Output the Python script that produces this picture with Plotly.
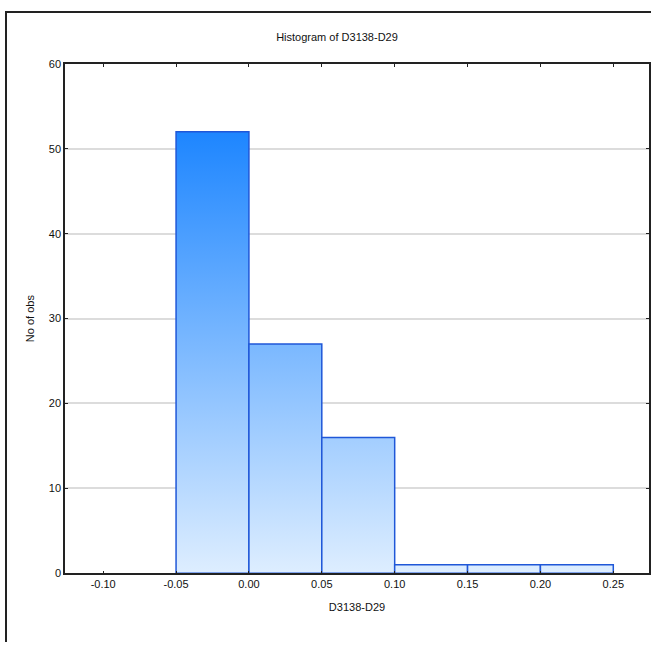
import plotly.graph_objects as go

# Histogram bins (left edges) and counts
bin_left = [-0.05, 0.00, 0.05, 0.10, 0.15, 0.20]
bin_width = 0.05
counts = [52, 27, 16, 1, 1, 1]

x_ticks = [-0.10, -0.05, 0.00, 0.05, 0.10, 0.15, 0.20, 0.25]
y_ticks = [0, 10, 20, 30, 40, 50, 60]

W, H = 651, 648
# plot area in pixels
PL, PR, PT, PB = 65, 649, 59, 578

LIGHT = "#e2f0ff"
DARK = "#1e86ff"
EDGE = "#1f57d8"

fig = go.Figure()

ymax = max(counts)
for x0, c in zip(bin_left, counts):
    x1 = x0 + bin_width
    fig.add_trace(go.Scatter(
        x=[x0, x0, x1, x1, x0],
        y=[0, c, c, 0, 0],
        mode="lines",
        fill="toself",
        fillgradient=dict(
            type="vertical",
            colorscale=[[0, LIGHT], [1, DARK]],
            start=0,
            stop=ymax,
        ),
        line=dict(color=EDGE, width=1.5),
        hoverinfo="skip",
        showlegend=False,
    ))

# empty trace carrying the outer frame axes (left and top border of the graph)
fig.add_trace(go.Scatter(x=[None], y=[None], xaxis="x2", yaxis="y2",
                         mode="lines", hoverinfo="skip", showlegend=False))

font_family = "Liberation Sans, Arial, sans-serif"
frame_axis = dict(showgrid=False, zeroline=False, showticklabels=False,
                  ticks="", showline=True, linecolor="#222222", linewidth=2,
                  range=[0, 1], fixedrange=True)

fig.update_layout(
    width=W, height=H,
    margin=dict(l=0, r=0, t=0, b=0),
    paper_bgcolor="white",
    plot_bgcolor="rgba(0,0,0,0)",
    font=dict(family=font_family, size=11, color="#111111"),
    title=dict(text="Histogram of D3138-D29", x=337 / W, xref="container",
               xanchor="center", y=1 - 37 / H, yref="container", yanchor="middle",
               font=dict(size=11, family=font_family, color="#111111")),
    xaxis=dict(
        domain=[PL / W, PR / W],
        range=[-0.1262, 0.2745],
        tickvals=x_ticks,
        ticktext=[f"{v:.2f}" for v in x_ticks],
        showgrid=False, zeroline=False,
        showline=True, linecolor="#222222", linewidth=1.5, mirror="ticks",
        ticks="inside", ticklen=3, tickcolor="#222222",
        tickfont=dict(size=11),
        title=dict(text="D3138-D29", font=dict(size=11), standoff=14),
    ),
    yaxis=dict(
        domain=[1 - PB / H, 1 - PT / H],
        range=[0, 60],
        tickvals=y_ticks,
        showgrid=True, gridcolor="#dcdcdc", gridwidth=1.5, zeroline=False,
        showline=True, linecolor="#222222", linewidth=1.5, mirror="ticks",
        ticks="inside", ticklen=3, tickcolor="#222222",
        tickfont=dict(size=11),
        title=dict(text="No of obs", font=dict(size=11), standoff=12),
    ),
    xaxis2=dict(frame_axis, domain=[7 / W, 1], anchor="y2", side="top"),
    yaxis2=dict(frame_axis, domain=[0, 1 - 7 / H], anchor="x2", side="left"),
)

fig.write_html("out.html")
